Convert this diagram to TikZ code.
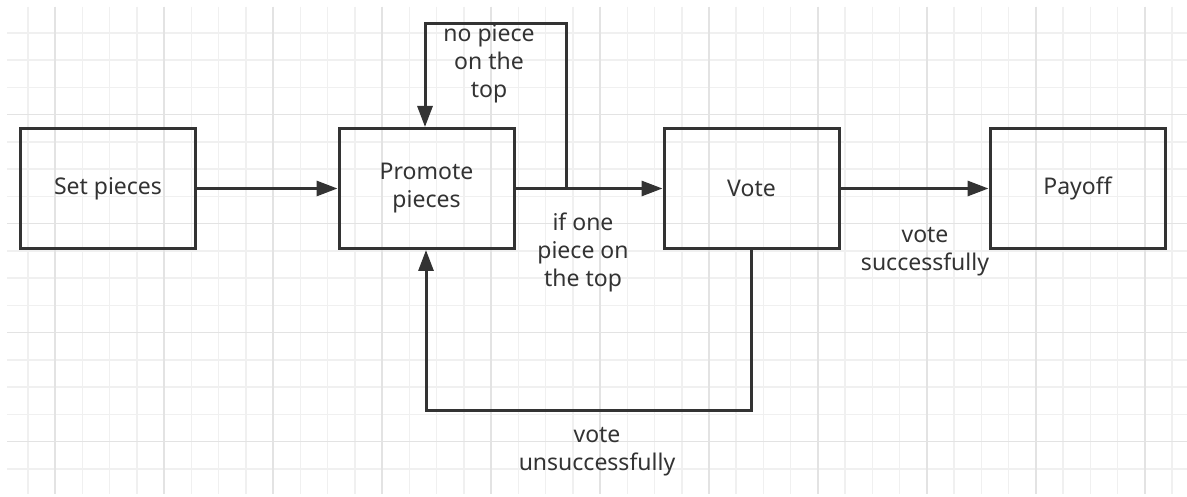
\documentclass[tikz,border=0pt]{standalone}
\usepackage{fontspec}
\setmainfont{Noto Sans}
\usetikzlibrary{arrows.meta}
\definecolor{ink}{HTML}{333333}
\definecolor{gridminor}{HTML}{F0F0F0}
\definecolor{gridmajor}{HTML}{E3E3E3}
\begin{document}
\begin{tikzpicture}[x=1pt,y=-1pt,
  box/.style={draw=ink, line width=3pt, minimum width=175pt, minimum height=120pt,
    inner sep=0pt, text=ink, font=\fontsize{23pt}{28pt}\selectfont, align=center},
  lbl/.style={text=ink, font=\fontsize{23pt}{28pt}\selectfont, align=center, inner sep=0pt},
  arr/.style={draw=ink, line width=3pt, -{Triangle[length=21pt,width=15pt]}},
  ln/.style={draw=ink, line width=3pt}]
\useasboundingbox (0,0) rectangle (1187,497);
\fill[white] (0,0) rectangle (1187,497);
% grid
\foreach \k in {0,...,42} {
  \draw[gridminor, line width=1.5pt] ({28+27.24*\k},7) -- ({28+27.24*\k},494);
}
\foreach \k in {0,...,16} {
  \draw[gridminor, line width=1.5pt] (7,{33+27.24*\k}) -- (1187,{33+27.24*\k});
}
\foreach \k in {0,...,10} {
  \draw[gridmajor, line width=1.5pt] ({55.2+108.96*\k},7) -- ({55.2+108.96*\k},494);
}
\foreach \k in {0,...,3} {
  \draw[gridmajor, line width=1.5pt] (7,{114.7+108.96*\k}) -- (1187,{114.7+108.96*\k});
}
% boxes
\node[box] (set) at (108,188.5) {Set pieces};
\node[box] (promote) at (426.5,188.5) {Promote\\pieces};
\node[box] (vote) at (751.5,188.5) {Vote};
\node[box] (payoff) at (1077.5,188.5) {Payoff};
% connectors
\draw[arr] (set.east) -- (promote.west);
\draw[arr] (promote.east) -- (vote.west);
\draw[arr] (vote.east) -- (payoff.west);
\coordinate (j) at (566,188.5);
\coordinate (tl) at (425,24);
\draw[arr] (j) |- (tl) -- (tl |- promote.north);
\coordinate (bl) at (426,410);
\draw[arr] (vote.south) |- (bl) -- (bl |- promote.south);
% labels
\node[lbl] (l1) at (489,64) {no piece\\on the\\top};
\node[lbl] (l2) at (583,252) {if one\\piece on\\the top};
\node[lbl] (l3) at (597,452) {vote\\unsuccessfully};
\node[lbl] (l4) at (925,252) {vote\\successfully};
\end{tikzpicture}
\end{document}
